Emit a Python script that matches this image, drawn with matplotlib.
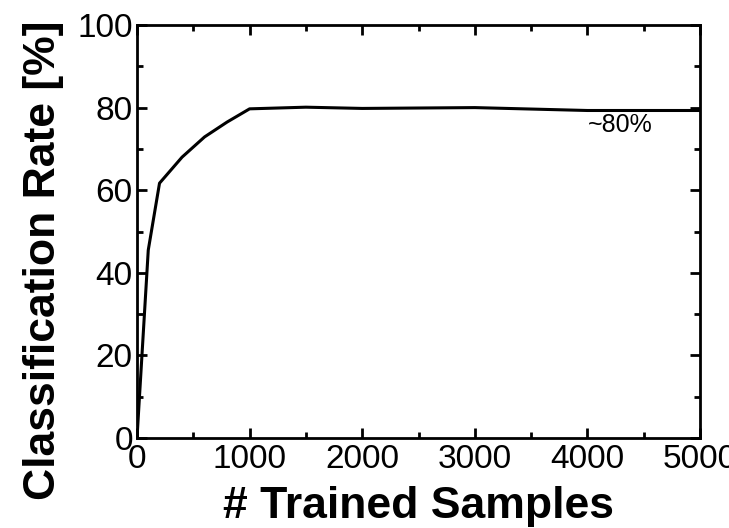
import matplotlib
matplotlib.use("Agg")
import matplotlib.pyplot as plt
from matplotlib.ticker import MultipleLocator

plt.rcParams["font.family"] = ["Liberation Sans", "DejaVu Sans"]

samples = [0, 100, 200, 400, 600, 800, 1000, 1500, 2000, 3000, 4000, 5000]
rate = [0, 45.5, 61.7, 68.0, 72.9, 76.5, 79.7, 80.1, 79.8, 80.0, 79.3, 79.3]

fig = plt.figure(figsize=(7.29, 5.28), dpi=100)
ax = fig.add_axes([137 / 729, 1 - 438 / 528, 563 / 729, 413 / 528])
ax.plot(samples, rate, color="black", lw=2.2)
ax.set_xlim(0, 5000)
ax.set_ylim(0, 100)
ax.xaxis.set_major_locator(MultipleLocator(1000))
ax.xaxis.set_minor_locator(MultipleLocator(500))
ax.yaxis.set_major_locator(MultipleLocator(20))
ax.yaxis.set_minor_locator(MultipleLocator(10))
ax.tick_params(which="both", direction="in", top=True, right=True, width=2,
               labelsize=24)
ax.tick_params(axis="x", pad=4)
ax.tick_params(axis="y", pad=3)
ax.tick_params(which="major", length=7)
ax.tick_params(which="minor", length=4)
for s in ax.spines.values():
    s.set_linewidth(2)

ax.text(4000, 75.8, "~80%", fontsize=18, ha="left", va="center")
ax.set_xlabel("# Trained Samples", fontsize=32, weight="bold", labelpad=8)
ax.set_ylabel("Classification Rate [%]", fontsize=32, weight="bold")
ax.yaxis.set_label_coords(-0.13, 0.43)

fig.savefig("out.png", dpi=100, facecolor="white")
